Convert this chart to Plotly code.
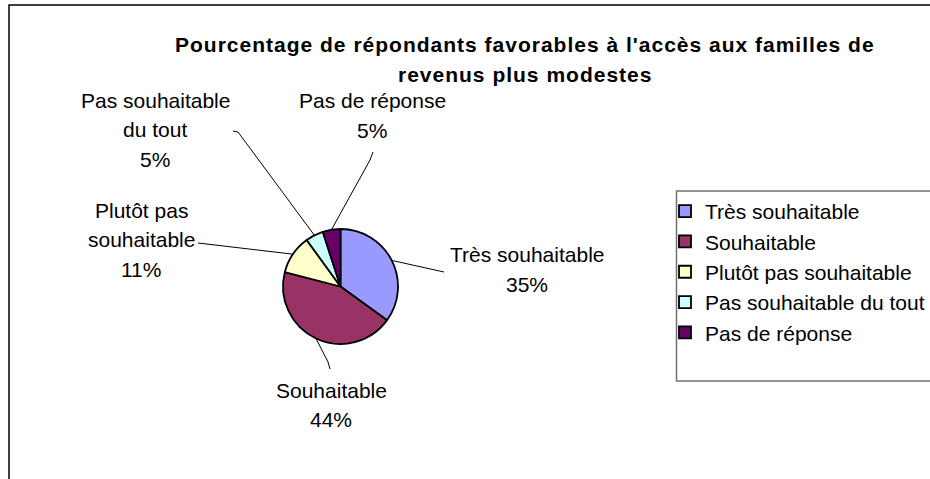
import math
import plotly.graph_objects as go

# ---------------- data ----------------
categories = ["Très souhaitable", "Souhaitable", "Plutôt pas souhaitable",
              "Pas souhaitable du tout", "Pas de réponse"]
values = [35, 44, 11, 5, 5]
label_lines = [["Très souhaitable"], ["Souhaitable"], ["Plutôt pas", "souhaitable"],
               ["Pas souhaitable", "du tout"], ["Pas de réponse"]]
title_lines = ["Pourcentage de répondants favorables à l'accès aux familles de",
               "revenus plus modestes"]

# ---------------- style ----------------
colors = ["#9999FF", "#993366", "#FFFFCC", "#CCFFFF", "#660066"]
W, H = 930, 479
FONT = "Liberation Sans, Arial, sans-serif"
FS = 21
CX, CY, R = 340.5, 286.5, 57.5          # pie centre / radius in pixels
LINE_STEP = 29.5
label_style = [
    dict(tx=527, ty=255, leader=[(444, 272)]),
    dict(tx=331, ty=390, leader=[(328, 362), (330, 369)]),
    dict(tx=141, ty=210, leader=[(198, 243)]),
    dict(tx=155, ty=100, leader=[(238, 132), (233, 131)]),
    dict(tx=372, ty=101, leader=[(370, 160), (373, 152)]),
]


def px(x):
    return x / W


def py(y):
    return 1 - y / H


fig = go.Figure(go.Pie(
    labels=categories, values=values, sort=False, direction="clockwise",
    rotation=0, textinfo="none", hoverinfo="label+percent",
    marker=dict(colors=colors, line=dict(color="black", width=1.8)),
    domain=dict(x=[px(CX - R), px(CX + R)], y=[py(CY + R), py(CY - R)]),
))

shapes = []
annotations = []

# outer chart border
shapes.append(dict(type="rect", xref="paper", yref="paper",
                   x0=px(9), y0=py(5), x1=px(W + 10), y1=py(H + 10),
                   line=dict(color="black", width=1.5), layer="below"))
# legend frame
shapes.append(dict(type="rect", xref="paper", yref="paper",
                   x0=px(676.5), y0=py(191), x1=px(W + 10), y1=py(381),
                   line=dict(color="#707070", width=1.5), layer="below"))

total = sum(values)
cum = 0
for v, lines, st in zip(values, label_lines, label_style):
    ang = 2 * math.pi * (cum + v / 2) / total
    cum += v
    ex = CX + R * math.sin(ang)
    ey = CY - R * math.cos(ang)
    pts = [(ex, ey)] + st["leader"]
    path = "M " + " L ".join(f"{px(x)},{py(y)}" for x, y in pts)
    shapes.append(dict(type="path", xref="paper", yref="paper", path=path,
                       line=dict(color="black", width=1)))
    all_lines = lines + [f"{v}%"]
    for i, t in enumerate(all_lines):
        annotations.append(dict(
            text=t, x=px(st["tx"]), y=py(st["ty"] + i * LINE_STEP),
            xref="paper", yref="paper", xanchor="center", yanchor="middle",
            showarrow=False, font=dict(family=FONT, size=FS, color="black")))

for i, t in enumerate(title_lines):
    annotations.append(dict(
        text=f"<b><span style='letter-spacing:1px'>{t}</span></b>",
        x=px(525), y=py(44 + i * 30), xref="paper", yref="paper",
        xanchor="center", yanchor="middle", showarrow=False,
        font=dict(family=FONT, size=FS, color="black")))

fig.update_layout(
    width=W, height=H, margin=dict(l=0, r=0, t=0, b=0),
    paper_bgcolor="white", plot_bgcolor="white",
    font=dict(family=FONT, size=FS, color="black"),
    showlegend=True,
    legend=dict(x=px(665), y=py(191), xanchor="left", yanchor="top",
                bgcolor="rgba(0,0,0,0)", borderwidth=0,
                font=dict(family=FONT, size=FS, color="black")),
    shapes=shapes, annotations=annotations,
)

fig.write_html(
    "out.html",
    config={"displayModeBar": False},
    post_script="document.body.style.margin='0';document.body.style.overflow='hidden';",
)
